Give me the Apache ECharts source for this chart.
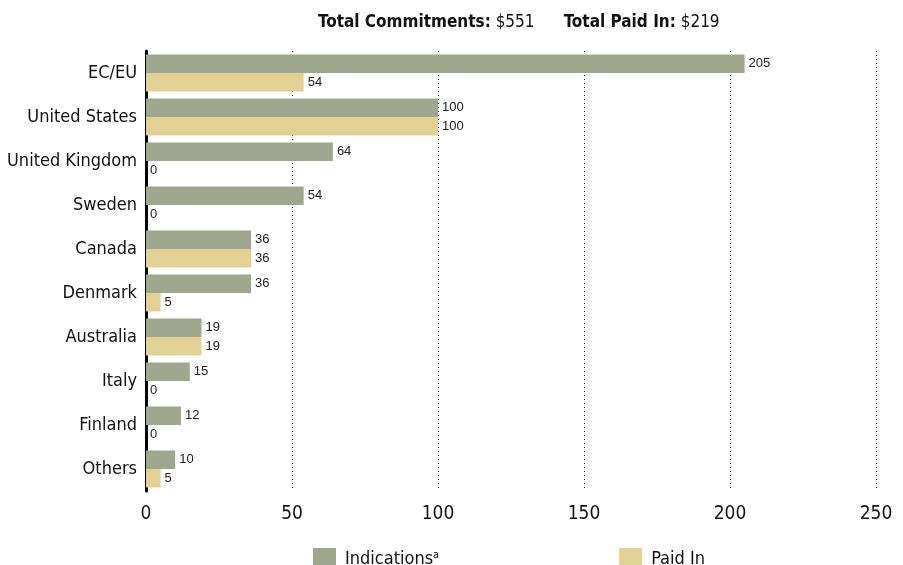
<!DOCTYPE html>
<html><head><meta charset="utf-8">
<script src="https://cdn.jsdelivr.net/npm/echarts@6/dist/echarts.min.js"></script>
<style>html,body{margin:0;padding:0;background:#fff}#c{width:903px;height:565px}</style>
</head><body><div id="c"></div>
<script>
const categories = ['EC/EU','United States','United Kingdom','Sweden','Canada','Denmark','Australia','Italy','Finland','Others'];
const indications = [205,100,64,54,36,36,19,15,12,10];
const paidIn = [54,100,0,0,36,5,19,0,0,5];
const xTicks = [0,50,100,150,200,250];
const FONT = '"Liberation Sans Narrow","DejaVu Sans Condensed","Roboto",sans-serif';
const chart = echarts.init(document.getElementById('c'));
chart.setOption({
  animation:false,
  textStyle:{fontFamily:FONT},
  title:{
    text:'{b|Total Commitments:} {n|$551}      {b|Total Paid In:} {n|$219}',
    left:313, top:9,
    textStyle:{fontWeight:'normal',fontSize:17,rich:{
      b:{fontFamily:FONT,fontWeight:'bold',fontSize:17,color:'#111'},
      n:{fontFamily:FONT,fontWeight:'normal',fontSize:17,color:'#111'}
    }}
  },
  legend:{
    top:543, left:308, itemWidth:23, itemHeight:22, itemGap:180,
    icon:'rect',
    data:['Indications','Paid In'],
    formatter:n=> n==='Indications' ? '{t|Indications}{s|a}' : '{t|Paid In}',
    textStyle:{fontFamily:FONT,rich:{
      t:{fontFamily:FONT,fontSize:18,color:'#111',padding:[0,0,0,4]},
      s:{fontFamily:FONT,fontSize:11,color:'#111',verticalAlign:'top',padding:[0,0,8,0]}
    }}
  },
  grid:{left:146,right:27,top:51,bottom:74,containLabel:false},
  xAxis:{
    type:'value',min:0,max:250,interval:50,
    axisLine:{show:false},axisTick:{show:false},
    axisLabel:{fontFamily:FONT,fontSize:19,color:'#111',margin:14,
      formatter:v=>xTicks.includes(v)?String(v):''},
    splitLine:{show:true,lineStyle:{type:[1,3],color:'#222',width:1}}
  },
  yAxis:{
    type:'category',data:categories,inverse:true,
    axisLine:{show:true,lineStyle:{color:'#000',width:3}},
    axisTick:{show:false},
    axisLabel:{fontFamily:FONT,fontSize:18,color:'#111',margin:9}
  },
  series:[
    {name:'Indications',type:'bar',data:indications,barWidth:18.5,barGap:'0%',
     itemStyle:{color:'#9fa78e'},
     label:{show:true,position:'right',distance:4,fontFamily:'"Liberation Sans","Arial",sans-serif',fontSize:13,color:'#222'}},
    {name:'Paid In',type:'bar',data:paidIn,barWidth:18.5,
     itemStyle:{color:'#e2d194'},
     label:{show:true,position:'right',distance:4,fontFamily:'"Liberation Sans","Arial",sans-serif',fontSize:13,color:'#222'}}
  ]
});
</script></body></html>
